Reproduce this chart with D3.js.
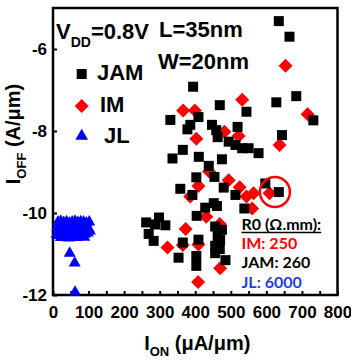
<!DOCTYPE html>
<html>
<head>
<meta charset="utf-8">
<script src="https://cdn.jsdelivr.net/npm/d3@7"></script>
<style>
  body { margin: 0; background: #fff; }
  text { font-family: Arial, "Liberation Sans", sans-serif; font-weight: bold; }
  .note text { font-family: Lato, "Open Sans", sans-serif; }
</style>
</head>
<body>
<div id="chart"></div>
<script>
// JAM devices: I_ON (uA/um) and log10 I_OFF (A/um)
const jamIon  = [635, 665, 544, 628, 684, 732, 519, 644, 513, 532, 550, 578, 597, 635, 513,
                 394, 469, 330, 409, 386, 378, 447, 459, 463, 494, 365, 336, 410, 475, 438,
                 454, 403, 358, 392, 480, 538, 428, 452, 461, 404, 298, 262, 316, 287, 269,
                 283, 365, 353, 409, 403, 403, 456, 475, 463, 470, 456, 469, 456, 485];
const jamIoff = [-5.32, -5.70, -7.53, -7.30, -7.15, -7.74, -7.90, -8.10, -8.34, -8.42, -8.42, -8.54, -9.28, -9.49, -9.56,
                 -6.92, -7.37, -7.73, -7.66, -7.85, -7.96, -7.85, -7.98, -8.15, -8.26, -8.46, -8.67, -8.63, -8.69, -8.85,
                 -9.12, -9.13, -9.41, -9.56, -9.38, -9.89, -9.87, -9.76, -9.83, -10.07, -10.11, -10.23, -10.30, -10.28, -10.51,
                 -10.68, -10.72, -11.09, -10.65, -11.05, -11.29, -10.33, -10.41, -10.56, -10.66, -10.80, -10.88, -10.98, -11.15];

// IM devices
const imIon  = [654, 532, 716, 366, 399, 482, 522, 403, 637, 439, 494, 409, 525, 386, 544,
                564, 609, 560, 431, 469, 373, 322, 365, 409, 470, 408];
const imIoff = [-6.41, -7.24, -7.59, -7.50, -7.50, -8.02, -8.12, -8.19, -8.34, -8.99, -9.20, -9.34, -9.37, -9.60, -9.60,
                -9.52, -9.52, -9.89, -10.09, -10.27, -10.39, -10.84, -10.78, -10.77, -11.35, -11.68];

// JL devices
const jlIon  = [14, 22, 30, 38, 46, 54, 62, 70, 78, 86, 94, 102,
                12, 20, 28, 36, 44, 52, 60, 68, 76, 84, 92, 100,
                10, 18, 26, 36, 48, 58, 68, 80, 90, 98, 104,
                22, 44, 66, 88,
                47, 61, 62];
const jlIoff = [-10.22, -10.20, -10.23, -10.21, -10.24, -10.22, -10.20, -10.23, -10.21, -10.22, -10.24, -10.22,
                -10.36, -10.39, -10.34, -10.38, -10.35, -10.40, -10.37, -10.33, -10.39, -10.36, -10.34, -10.38,
                -10.52, -10.55, -10.51, -10.56, -10.54, -10.50, -10.55, -10.53, -10.52, -10.49, -10.44,
                -10.60, -10.61, -10.60, -10.59,
                -10.98, -11.22, -11.93];

// highlighted device
const circled = [624, -9.49];

const xTicks = [0, 50, 100, 150, 200, 250, 300, 350, 400, 450, 500, 550, 600, 650, 700, 750, 800];
const yTicks = [-12, -10, -8, -6];

const r0Labels = ['IM: 250', 'JAM: 260', 'JL: 6000'];

const width = 351, height = 360;
const margin = {top: 8, right: 13.5, bottom: 65, left: 53};
const w = width - margin.left - margin.right;
const h = height - margin.top - margin.bottom;

const svg = d3.select('#chart').append('svg')
    .attr('width', width)
    .attr('height', height);

const g = svg.append('g')
    .attr('transform', 'translate(' + margin.left + ',' + margin.top + ')');

const x = d3.scaleLinear().domain([0, 800]).range([0, w]);
const y = d3.scaleLinear().domain([-12, -5]).range([h, 0]);

// axes, ticks inward
const xAxis = g.append('g')
    .attr('transform', 'translate(0,' + h + ')')
    .call(d3.axisBottom(x).tickValues(xTicks).tickSizeInner(-4).tickSizeOuter(0).tickPadding(11)
        .tickFormat(d => d % 100 === 0 ? String(d) : ''));

const yAxis = g.append('g')
    .call(d3.axisLeft(y).tickValues(yTicks).tickSizeInner(-4).tickSizeOuter(0).tickPadding(6)
        .tickFormat(d => String(d)));

[xAxis, yAxis].forEach(a => {
    a.select('.domain').remove();
    a.selectAll('line').attr('stroke', '#000').attr('stroke-width', 2);
    a.selectAll('text').attr('font-size', 17).attr('fill', '#000')
        .style('font-family', 'Arial, "Liberation Sans", sans-serif').style('font-weight', 'bold');
});

// frame
g.append('rect')
    .attr('width', w).attr('height', h)
    .attr('fill', 'none').attr('stroke', '#000').attr('stroke-width', 2.5);

const square = d3.symbol().type(d3.symbolSquare).size(100);
const diamond = d3.symbol().type(d3.symbolSquare).size(98);
const triangle = d3.symbol().type(d3.symbolTriangle).size(62);

const plot = g.append('g');

// JL
plot.selectAll('.jl').data(d3.range(jlIon.length)).join('path')
    .attr('class', 'jl')
    .attr('d', triangle)
    .attr('fill', '#0000ff')
    .attr('transform', i => 'translate(' + x(jlIon[i]) + ',' + y(jlIoff[i]) + ')');

// IM
plot.selectAll('.im').data(d3.range(imIon.length)).join('path')
    .attr('class', 'im')
    .attr('d', diamond)
    .attr('fill', '#ff0000')
    .attr('transform', i => 'translate(' + x(imIon[i]) + ',' + y(imIoff[i]) + ') rotate(45)');

// JAM
plot.selectAll('.jam').data(d3.range(jamIon.length)).join('path')
    .attr('class', 'jam')
    .attr('d', square)
    .attr('fill', '#000')
    .attr('transform', i => 'translate(' + x(jamIon[i]) + ',' + y(jamIoff[i]) + ')');

g.append('circle')
    .attr('cx', x(circled[0])).attr('cy', y(circled[1])).attr('r', 15)
    .attr('fill', 'none').attr('stroke', '#ff0000').attr('stroke-width', 2.5);

// legend
const legend = svg.append('g');
const legendItems = [
    {name: 'JAM', sym: square, color: '#000', my: 74, tx: 97, ty: 79.5, rot: 0},
    {name: 'IM', sym: diamond, color: '#ff0000', my: 106, tx: 100, ty: 111.5, rot: 45},
    {name: 'JL', sym: d3.symbol().type(d3.symbolTriangle).size(70), color: '#0000ff', my: 136, tx: 104, ty: 142.5, rot: 0}
];
legendItems.forEach(it => {
    legend.append('path')
        .attr('d', it.sym)
        .attr('fill', it.color)
        .attr('transform', 'translate(81.7,' + it.my + ') rotate(' + it.rot + ')');
    legend.append('text')
        .attr('x', it.tx).attr('y', it.ty)
        .attr('font-size', 22)
        .text(it.name);
});

// conditions
const vdd = svg.append('text').attr('x', 56).attr('y', 39).attr('font-size', 22);
vdd.append('tspan').text('V');
vdd.append('tspan').attr('font-size', 14).attr('dy', 8).text('DD');
vdd.append('tspan').attr('dy', -8).text('=0.8V');

svg.append('text').attr('x', 159).attr('y', 37).attr('font-size', 22).text('L=35nm');
svg.append('text').attr('x', 158).attr('y', 68.5).attr('font-size', 22).text('W=20nm');

// R0 note
const note = svg.append('g').attr('class', 'note');
const head = note.append('text')
    .attr('x', 241.5).attr('y', 229.5).attr('font-size', 16)
    .text('R0 (Ω.mm):');
const hb = head.node().getBBox();
note.append('line')
    .attr('x1', hb.x).attr('x2', hb.x + hb.width)
    .attr('y1', 232.5).attr('y2', 232.5)
    .attr('stroke', '#000').attr('stroke-width', 1.5);
const noteColors = ['#ff0000', '#000', '#1f3fd6'];
const noteY = [248.5, 267.5, 288];
r0Labels.forEach((t, i) => {
    note.append('text')
        .attr('x', 241.5).attr('y', noteY[i]).attr('font-size', 16)
        .attr('fill', noteColors[i])
        .text(t);
});

// axis titles
const xt = svg.append('text')
    .attr('x', margin.left + w / 2 + 2).attr('y', 350)
    .attr('text-anchor', 'middle').attr('font-size', 20);
xt.append('tspan').text('I');
xt.append('tspan').attr('font-size', 13).attr('dy', 6).text('ON');
xt.append('tspan').attr('dy', -6).text(' (μA/μm)');

const yt = svg.append('text')
    .attr('transform', 'translate(20,134) rotate(-90)')
    .attr('text-anchor', 'middle').attr('font-size', 20);
yt.append('tspan').text('I');
yt.append('tspan').attr('font-size', 13).attr('dy', 6).text('OFF');
yt.append('tspan').attr('dy', -6).text(' (A/μm)');
</script>
</body>
</html>
